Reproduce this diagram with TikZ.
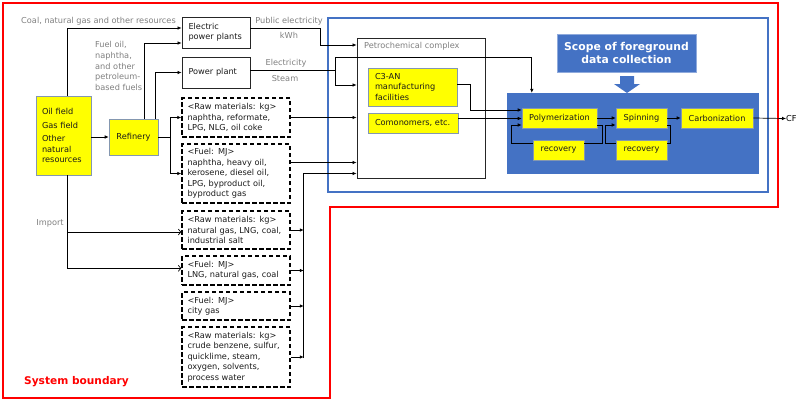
\documentclass[tikz,border=0pt]{standalone}
\usepackage{fontspec}
\setmainfont{DejaVu Sans}
\usetikzlibrary{arrows.meta,calc}
\definecolor{ybox}{HTML}{FFFF00}
\definecolor{ybord}{HTML}{8497B0}
\definecolor{mblue}{HTML}{4472C4}
\definecolor{lblue}{HTML}{8FAADC}
\definecolor{gtxt}{HTML}{7F7F7F}
\definecolor{btxt}{HTML}{1A1A1A}
\begin{document}
\begin{tikzpicture}[x=1pt,y=-1pt,
  font=\fontsize{8.2}{10.4}\selectfont,
  arr/.style={-{Latex[length=4pt,width=3.6pt]}, line width=0.7pt, draw=black},
  oarr/.style={-{Straight Barb[length=2.5pt,width=6pt]}, line width=0.7pt, draw=black},
  ybx/.style={draw=ybord, fill=ybox, inner sep=0pt, line width=0.6pt, text=btxt},
  wbx/.style={draw=black!85, fill=white, inner sep=0pt, line width=0.8pt, text=btxt},
  dbx/.style={draw=black, dash pattern=on 4.5pt off 2.5pt, line width=1.5pt, inner ysep=0pt,
     inner xsep=5.5pt, text width=97pt, align=left, minimum width=108pt, text=btxt},
  glab/.style={text=gtxt, inner sep=0pt},
  lft/.style={align=left, text width=#1}
  ]
\useasboundingbox (0,0) rectangle (800,402);
% boundaries
\draw[red, line width=2.6pt] (3,3) -- (778,3) -- (778,207) -- (330,207) -- (330,398) -- (3,398) -- cycle;
\draw[mblue, line width=2.6pt] (328,18) rectangle (768,192);
\node[text=red, font=\fontsize{10.6}{12}\selectfont\bfseries, anchor=west, inner sep=0pt] (sysb) at (24,382) {System boundary};

% left side
\node[ybx, minimum width=55pt, minimum height=79pt, inner xsep=6pt, lft=43pt, font=\fontsize{8.2}{10.2}\selectfont] (oil) at (63.5,135.5)
  {Oil field\\[3.5pt]Gas field\\[3pt]Other\\natural\\resources};
\node[ybx, minimum width=49pt, minimum height=36pt] (ref) at (133.5,137) {Refinery};
\node[wbx, minimum width=68pt, minimum height=31pt, inner xsep=6.5pt, lft=55pt] (epp) at (216,32.5) {Electric\\power plants};
\node[wbx, minimum width=68pt, minimum height=31pt, inner xsep=6.5pt, lft=55pt] (pp) at (216,72.5) {Power plant};

\node[glab, anchor=center] (coal) at (98.5,21) {Coal, natural gas and other resources};
\node[glab, anchor=north west, align=left, font=\fontsize{8.2}{10.8}\selectfont] (fuel) at (95,41) {Fuel oil,\\naphtha,\\and other\\petroleum-\\based fuels};
\node[glab, anchor=center] (imp) at (50,223) {Import};

% dashed boxes
\node[dbx, minimum height=39pt] (d1) at (236,117.5) {<Raw materials: kg>\\naphtha, reformate,\\LPG, NLG, oil coke};
\node[dbx, minimum height=59pt] (d2) at (236,173.5) {<Fuel: MJ>\\naphtha, heavy oil,\\kerosene, diesel oil,\\LPG, byproduct oil,\\byproduct gas};
\node[dbx, minimum height=38pt] (d3) at (236,230) {<Raw materials: kg>\\natural gas, LNG, coal,\\industrial salt};
\node[dbx, minimum height=29pt] (d4) at (236,270.5) {<Fuel: MJ>\\LNG, natural gas, coal};
\node[dbx, minimum height=28pt] (d5) at (236,306) {<Fuel: MJ>\\city gas};
\node[dbx, minimum height=60pt] (d6) at (236,357) {<Raw materials: kg>\\crude benzene, sulfur,\\quicklime, steam,\\oxygen, solvents,\\process water};

% petrochemical complex
\node[draw=black!85, line width=0.8pt, fill=white, minimum width=128pt, minimum height=140pt, inner sep=0pt] (petro) at (421,108) {};
\node[glab, anchor=west] (petlab) at (364,46.5) {Petrochemical complex};
\node[ybx, minimum width=89pt, minimum height=38pt, inner xsep=7pt, lft=75pt] (c3an) at (412.5,87) {C3-AN\\manufacturing\\facilities};
\node[ybx, minimum width=90pt, minimum height=20pt, inner xsep=7pt, lft=76pt] (comon) at (413,123) {Comonomers, etc.};

% foreground
\node[fill=mblue, minimum width=252pt, minimum height=81pt, inner sep=0pt] (fg) at (633,133.5) {};
\node[fill=mblue, draw=lblue, line width=0.8pt, minimum width=139pt, minimum height=38pt, inner sep=0pt,
  text=white, align=center, font=\fontsize{10.8}{13.5}\selectfont\bfseries] (scope) at (626.5,53) {Scope of foreground\\data collection};
\fill[mblue] (620,76) -- (634,76) -- (634,84) -- (640,84) -- (627,93) -- (614,84) -- (620,84) -- cycle;

\node[ybx, minimum width=75pt, minimum height=20pt] (poly) at (559.5,118) {Polymerization};
\node[ybx, minimum width=51pt, minimum height=20pt] (spin) at (641.5,118) {Spinning};
\node[ybx, minimum width=72pt, minimum height=20pt] (carb) at (717,118) {Carbonization};
\node[ybx, minimum width=51pt, minimum height=20pt] (rec1) at (558.5,150) {recovery};
\node[ybx, minimum width=51pt, minimum height=20pt] (rec2) at (641.5,150) {recovery};
\node[inner sep=0pt, anchor=west] (cf) at (786,118.5) {CF};

% connectors left
\draw[arr] ($(oil.north)+(3.5,0)$) |- ($(epp.west)+(0,-4.5)$);
\draw[arr] (oil.east |- ref.west) -- (ref.west);
\draw[arr] ($(ref.north)+(10.5,0)$) |- ($(epp.west)+(0,10.5)$);
\draw[arr] ($(ref.north)+(21.5,0)$) |- (pp.west);
\draw[line width=0.7pt] (ref.east) -- ++(12,0) coordinate (rb);
\draw[arr] (rb) |- (d1.west);
\draw[arr] (rb) |- (d2.west);
\draw[line width=0.7pt] ($(oil.south)+(3.5,0)$) -- ($(oil.south)+(3.5,93)$) coordinate (ib);
\draw[oarr] ($(oil.south)+(3.5,0)$) |- ($(d3.west)+(0,2)$);
\draw[oarr] (ib) -- (ib -| d4.west);

% to petrochemical complex
\draw[arr] ($(epp.east)+(0,-4.5)$) -- ++(70,0) |- ($(petro.west)+(0,-63)$);
\node[glab] (pel) at (289,21) {Public electricity};
\node[glab] (kwh) at (289,35) {kWh};
\draw[line width=0.7pt] ($(pp.east)+(0,-2.5)$) -- ++(85,0) coordinate (pj);
\draw[arr] (pj) |- ($(petro.west)+(0,-23)$);
\draw[arr] (pj) |- ($(fg.north west)+(25,-35)$) -- ($(fg.north west)+(25,0)$);
\node[glab] (ele) at (286,63) {Electricity};
\node[glab] (stm) at (285,78.5) {Steam};
\draw[arr] (d1.east) -- (d1.east -| petro.west);
\draw[arr] ($(d2.east)+(0,-11)$) -- ($(d2.east -| petro.west)+(0,-11)$);
\coordinate (bt) at ($(d2.east)+(13,0)$);
\coordinate (bb) at ($(d6.east)+(13,1)$);
\draw[arr] (bb) -- (bt) -- (bt -| petro.west);
\foreach \n in {d3,d4,d5,d6} \draw[arr] (\n.east) -- (\n.east -| bt);

% foreground connectors
\draw[arr] ($(c3an.east)+(0,-3)$) -- ++(13,0) |- ($(poly.west)+(0,-8)$);
\draw[arr] ($(comon.east)+(0,-4.5)$) -- ($(poly.west)+(0,0.5)$);
\draw[arr] (poly.east) -- (spin.west);
\draw[arr] (spin.east) -- (carb.west);
\draw[arr] (carb.east) -- (cf.west);
\draw[line width=0.8pt] ($(poly.east)+(0,7)$) -- ++(5,0) |- ($(rec1.east)+(0,-7)$);
\draw[arr, line width=0.8pt] ($(rec1.west)+(0,-7)$) -- ++(-21,0) |- ($(poly.west)+(0,7)$);
\draw[line width=0.8pt] ($(spin.east)+(0,7)$) -- ++(3,0) |- ($(rec2.east)+(0,-7)$);
\draw[arr, line width=0.8pt] ($(rec2.west)+(0,-7)$) -- ++(-10,0) |- ($(spin.west)+(0,7)$);
\end{tikzpicture}
\end{document}
